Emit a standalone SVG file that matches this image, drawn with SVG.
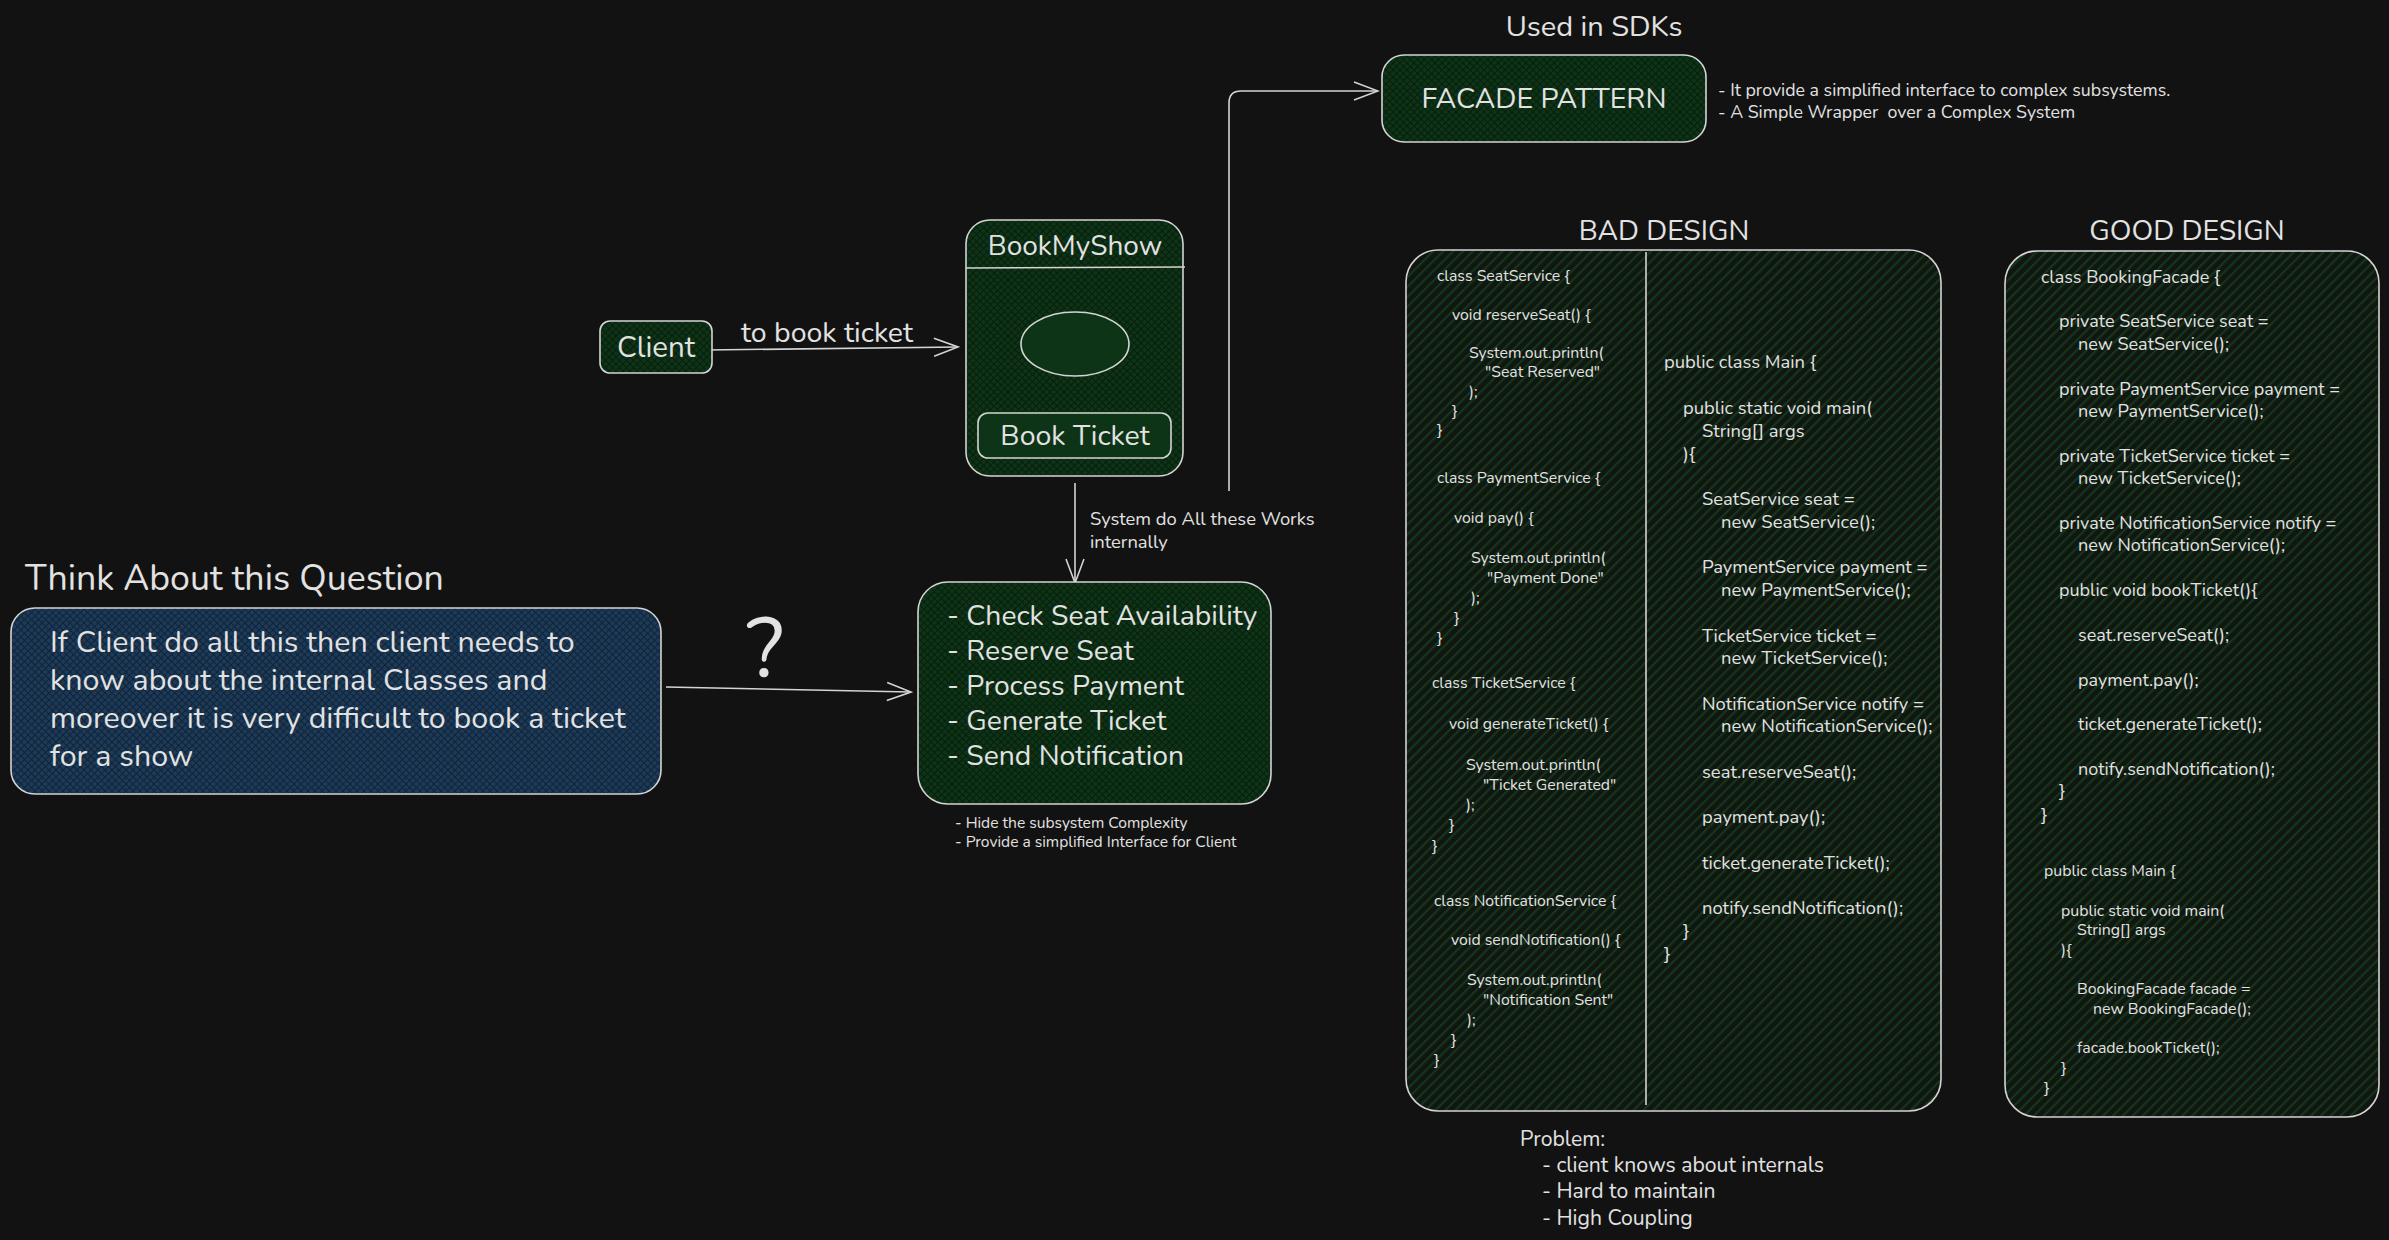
<svg xmlns="http://www.w3.org/2000/svg" width="2389" height="1240" viewBox="0 0 2389 1240">
<style>
text{font-family:Nunito,Lato,"Noto Sans",sans-serif;fill:#e2e2e2}
.box{stroke:#d4d4d4;stroke-width:1.6}
.conn{fill:none;stroke:#d4d4d4;stroke-width:1.6}
.t28{font-size:28.5px}
.c16{font-size:15.8px}
.c19{font-size:18.4px}
.c18{font-size:18px}
.c16g{font-size:15.9px}
.mid{text-anchor:middle}
</style>
<defs>
<pattern id="xg" width="7" height="7" patternUnits="userSpaceOnUse"><rect width="7" height="7" fill="#0d3416"/><path d="M0,0 L7,7 M7,0 L0,7" stroke="#081f0d" stroke-width="1.1"/></pattern>
<pattern id="xb" width="7" height="7" patternUnits="userSpaceOnUse"><rect width="7" height="7" fill="#1d3b57"/><path d="M0,0 L7,7 M7,0 L0,7" stroke="#10233a" stroke-width="1.1"/></pattern>
<pattern id="dg" width="7" height="7" patternUnits="userSpaceOnUse" patternTransform="rotate(45)"><rect width="7" height="7" fill="#111612"/><rect width="2.2" height="7" fill="#133718"/></pattern>
<marker id="arr" viewBox="-26 -12 28 24" refX="0" refY="0" markerWidth="28" markerHeight="24" markerUnits="userSpaceOnUse" orient="auto"><path d="M-24,-9 L0,0 L-24,9" fill="none" stroke="#d4d4d4" stroke-width="1.6"/></marker>
</defs>
<rect width="2389" height="1240" fill="#121212"/>

<g id="connectors">
<path class="conn" d="M706,350 L958,347" marker-end="url(#arr)"/>
<path class="conn" d="M1075,483 L1075,583" marker-end="url(#arr)"/>
<path class="conn" d="M666,687 L911,692" marker-end="url(#arr)"/>
<path class="conn" d="M1229,491 V103 Q1229,91 1241,91 H1378" marker-end="url(#arr)"/>
<text x="741" y="342" class="t28">to book ticket</text>
<text x="1090" y="525" style="font-size:18.4px">System do All these Works</text>
<text x="1090" y="548" style="font-size:18.4px">internally</text>
<text x="765" y="677" class="mid" style="font-size:84px">?</text>
</g>

<g id="title-sdk"><text x="1594" y="36" class="mid" style="font-size:29px">Used in SDKs</text></g>

<g id="facade">
<rect class="box" x="1382" y="55" width="324" height="87" rx="22" fill="url(#xg)"/>
<text x="1544" y="108" class="mid" style="font-size:28.5px">FACADE PATTERN</text>
</g>
<g id="facade-notes">
<text x="1718" y="96" style="font-size:17.8px">- It provide a simplified interface to complex subsystems.</text>
<text x="1718" y="118" style="font-size:17.8px">- A Simple Wrapper&#160; over a Complex System</text>
</g>

<g id="client">
<rect class="box" x="600" y="321" width="112" height="52" rx="10" fill="url(#xg)"/>
<text x="656" y="357" class="mid" style="font-size:29.5px">Client</text>
</g>

<g id="bookmyshow">
<rect class="box" x="966" y="220" width="217" height="256" rx="24" fill="url(#xg)"/>
<line class="box" x1="966" y1="268" x2="1185" y2="267"/>
<text x="1075" y="255" class="mid" style="font-size:28px">BookMyShow</text>
<ellipse class="box" cx="1075" cy="344" rx="54" ry="32" fill="#0d3416"/>
<rect class="box" x="978" y="413" width="193" height="45" rx="10" fill="#0d3416"/>
<text x="1075" y="445" class="mid" style="font-size:28.5px">Book Ticket</text>
</g>

<g id="question-title"><text x="25" y="590" style="font-size:35.7px">Think About this Question</text></g>
<g id="question">
<rect class="box" x="11" y="608" width="650" height="186" rx="24" fill="url(#xb)"/>
<g style="font-size:30.4px">
<text x="50" y="652">If Client do all this then client needs to</text>
<text x="50" y="690">know about the internal Classes and</text>
<text x="50" y="728">moreover it is very difficult to book a ticket</text>
<text x="50" y="766">for a show</text>
</g>
</g>

<g id="subsystem">
<rect class="box" x="918" y="582" width="353" height="222" rx="30" fill="url(#xg)"/>
<g style="font-size:28.3px">
<text x="947" y="625">- Check Seat Availability</text>
<text x="947" y="660">- Reserve Seat</text>
<text x="947" y="695">- Process Payment</text>
<text x="947" y="730">- Generate Ticket</text>
<text x="947" y="765">- Send Notification</text>
</g>
</g>
<g id="subsystem-notes" style="font-size:15.6px">
<text x="955" y="828">- Hide the subsystem Complexity</text>
<text x="955" y="847">- Provide a simplified Interface for Client</text>
</g>

<g id="bad-design">
<text x="1664" y="240" class="mid" style="font-size:28.2px">BAD DESIGN</text>
<rect class="box" x="1406" y="250" width="535" height="861" rx="32" fill="url(#dg)"/>
<line class="box" x1="1646" y1="252" x2="1646" y2="1105"/>
<g class="c16">
<text x="1437" y="281">class SeatService {</text>
<text x="1452" y="320">void reserveSeat() {</text>
<text x="1469" y="358">System.out.println(</text>
<text x="1485" y="377">"Seat Reserved"</text>
<text x="1469" y="397">);</text>
<text x="1452" y="416">}</text>
<text x="1437" y="435">}</text>
<text x="1437" y="483">class PaymentService {</text>
<text x="1454" y="523">void pay() {</text>
<text x="1471" y="563">System.out.println(</text>
<text x="1487" y="583">"Payment Done"</text>
<text x="1471" y="603">);</text>
<text x="1454" y="623">}</text>
<text x="1437" y="643">}</text>
<text x="1432" y="688">class TicketService {</text>
<text x="1449" y="729">void generateTicket() {</text>
<text x="1466" y="770">System.out.println(</text>
<text x="1483" y="790">"Ticket Generated"</text>
<text x="1466" y="810">);</text>
<text x="1449" y="830">}</text>
<text x="1432" y="851">}</text>
<text x="1434" y="906">class NotificationService {</text>
<text x="1451" y="945">void sendNotification() {</text>
<text x="1467" y="985">System.out.println(</text>
<text x="1483" y="1005">"Notification Sent"</text>
<text x="1467" y="1025">);</text>
<text x="1451" y="1045">}</text>
<text x="1434" y="1065">}</text>
</g>
<g class="c19">
<text x="1664" y="368">public class Main {</text>
<text x="1683" y="414">public static void main(</text>
<text x="1702" y="437">String[] args</text>
<text x="1683" y="460">){</text>
<text x="1702" y="505">SeatService seat =</text>
<text x="1721" y="528">new SeatService();</text>
<text x="1702" y="573">PaymentService payment =</text>
<text x="1721" y="596">new PaymentService();</text>
<text x="1702" y="642">TicketService ticket =</text>
<text x="1721" y="664">new TicketService();</text>
<text x="1702" y="710">NotificationService notify =</text>
<text x="1721" y="732">new NotificationService();</text>
<text x="1702" y="778">seat.reserveSeat();</text>
<text x="1702" y="823">payment.pay();</text>
<text x="1702" y="869">ticket.generateTicket();</text>
<text x="1702" y="914">notify.sendNotification();</text>
<text x="1683" y="937">}</text>
<text x="1664" y="960">}</text>
</g>
</g>

<g id="problem" style="font-size:21.2px">
<text x="1520" y="1146">Problem:</text>
<text x="1542" y="1172">- client knows about internals</text>
<text x="1542" y="1198">- Hard to maintain</text>
<text x="1542" y="1225">- High Coupling</text>
</g>

<g id="good-design">
<text x="2187" y="240" class="mid" style="font-size:28.3px">GOOD DESIGN</text>
<rect class="box" x="2005" y="251" width="374" height="866" rx="32" fill="url(#dg)"/>
<g class="c18">
<text x="2041" y="283">class BookingFacade {</text>
<text x="2059" y="327">private SeatService seat =</text>
<text x="2078" y="350">new SeatService();</text>
<text x="2059" y="395">private PaymentService payment =</text>
<text x="2078" y="417">new PaymentService();</text>
<text x="2059" y="462">private TicketService ticket =</text>
<text x="2078" y="484">new TicketService();</text>
<text x="2059" y="529">private NotificationService notify =</text>
<text x="2078" y="551">new NotificationService();</text>
<text x="2059" y="596">public void bookTicket(){</text>
<text x="2078" y="641">seat.reserveSeat();</text>
<text x="2078" y="686">payment.pay();</text>
<text x="2078" y="730">ticket.generateTicket();</text>
<text x="2078" y="775">notify.sendNotification();</text>
<text x="2059" y="797">}</text>
<text x="2041" y="821">}</text>
</g>
<g class="c16g">
<text x="2044" y="876">public class Main {</text>
<text x="2061" y="916">public static void main(</text>
<text x="2077" y="935">String[] args</text>
<text x="2061" y="955">){</text>
<text x="2077" y="994">BookingFacade facade =</text>
<text x="2093" y="1014">new BookingFacade();</text>
<text x="2077" y="1053">facade.bookTicket();</text>
<text x="2061" y="1073">}</text>
<text x="2044" y="1093">}</text>
</g>
</g>
</svg>
